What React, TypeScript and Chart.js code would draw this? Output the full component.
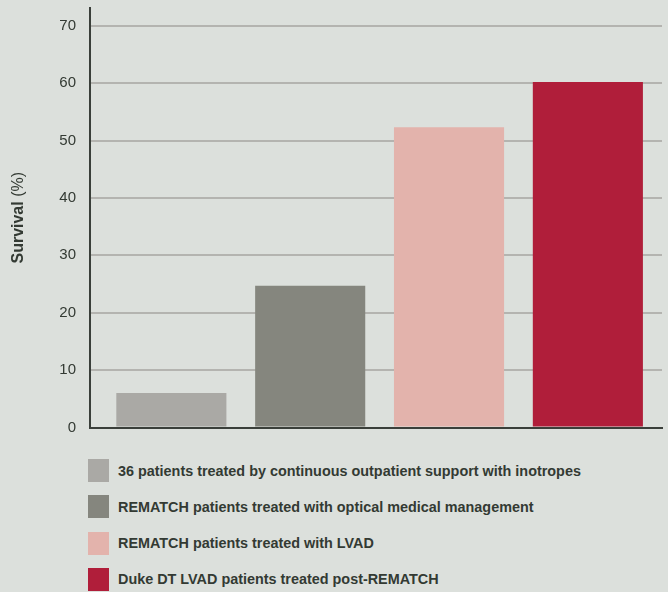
import React, { useEffect, useRef } from "react";
import { Chart, registerables } from "chart.js";

Chart.register(...registerables);

const categories: string[] = [
  "36 patients treated by continuous outpatient support with inotropes",
  "REMATCH patients treated with optical medical management",
  "REMATCH patients treated with LVAD",
  "Duke DT LVAD patients treated post-REMATCH",
];
const survival: number[] = [6.0, 24.7, 52.3, 60.2];
const barColors: string[] = ["#aaa9a5", "#85867e", "#e3b3ac", "#b01e3a"];
const yTicks: number[] = [0, 10, 20, 30, 40, 50, 60, 70];
const yTitleBold = "Survival";
const yTitleNormal = " (%)";

const BG = "#dce0dc";
const TEXT = "#333a33";
const FONT = "'Liberation Sans', Arial, Helvetica, sans-serif";

const yTitlePlugin = {
  id: "yTitle",
  afterDraw(chart: any) {
    const { ctx, chartArea } = chart;
    ctx.save();
    const cy = (chartArea.top + chartArea.bottom) / 2;
    ctx.translate(19, cy);
    ctx.rotate(-Math.PI / 2);
    ctx.fillStyle = TEXT;
    ctx.textBaseline = "middle";
    ctx.textAlign = "left";
    ctx.font = `bold 16px ${FONT}`;
    const w1 = ctx.measureText(yTitleBold).width;
    ctx.font = `16px ${FONT}`;
    const w2 = ctx.measureText(yTitleNormal).width;
    const start = -(w1 + w2) / 2;
    ctx.font = `bold 16px ${FONT}`;
    ctx.fillText(yTitleBold, start, 0);
    ctx.font = `16px ${FONT}`;
    ctx.fillText(yTitleNormal, start + w1, 0);
    ctx.restore();
  },
};

export default function App() {
  const ref = useRef<HTMLCanvasElement | null>(null);

  useEffect(() => {
    document.body.style.margin = "0";
    document.body.style.background = BG;
    if (!ref.current) return;
    const chart = new Chart(ref.current, {
      type: "bar",
      data: {
        datasets: categories.map((label, i) => ({
          label,
          data: [{ x: i, y: survival[i] }],
          backgroundColor: barColors[i],
          borderWidth: 0,
          barPercentage: 0.793,
          categoryPercentage: 1,
          grouped: false,
        })),
      },
      options: {
        animation: false,
        responsive: false,
        maintainAspectRatio: false,
        layout: { padding: { left: 0, right: 6, top: 8, bottom: 12.5 } },
        plugins: {
          legend: { display: false },
          tooltip: { enabled: false },
        },
        scales: {
          x: {
            type: "linear",
            offset: false,
            min: -0.586,
            max: 3.534,
            afterBuildTicks(scale: any) {
              scale.ticks = survival.map((_, i) => ({ value: i }));
            },
            afterFit(scale: any) {
              scale.height = 0;
              scale.paddingLeft = 0;
              scale.paddingRight = 0;
            },
            grid: { display: false, drawTicks: false },
            ticks: { display: false },
            border: { display: true, color: "#3a3f3a", width: 2 },
          },
          y: {
            type: "linear",
            min: 0,
            max: 73.1,
            afterFit(scale: any) {
              scale.width = 90;
              scale.paddingTop = 0;
              scale.paddingBottom = 0;
            },
            afterBuildTicks(scale: any) {
              scale.ticks = yTicks.map((v) => ({ value: v }));
            },
            grid: {
              color: (c: any) => (c.tick && c.tick.value === 0 ? "rgba(0,0,0,0)" : "#b4b4b0"),
              lineWidth: 2,
              drawTicks: false,
            },
            border: { display: true, color: "#3a3f3a", width: 2 },
            ticks: {
              padding: 14,
              color: TEXT,
              font: { size: 15, family: FONT },
            },
          },
        },
      },
      plugins: [yTitlePlugin],
    });
    return () => chart.destroy();
  }, []);

  return (
    <div style={{ position: "relative", width: 668, height: 592, background: BG, fontFamily: FONT }}>
      <canvas ref={ref} width={668} height={440} style={{ display: "block", width: 668, height: 440 }} />
      {categories.map((label, i) => (
        <div
          key={label}
          style={{
            position: "absolute",
            left: 88,
            top: 459 + i * 36.3,
            height: 23,
            display: "flex",
            alignItems: "center",
            whiteSpace: "nowrap",
          }}
        >
          <span style={{ display: "inline-block", width: 21, height: 23, background: barColors[i] }} />
          <span style={{ marginLeft: 9, fontWeight: "bold", fontSize: 14.4, color: TEXT }}>{label}</span>
        </div>
      ))}
    </div>
  );
}
